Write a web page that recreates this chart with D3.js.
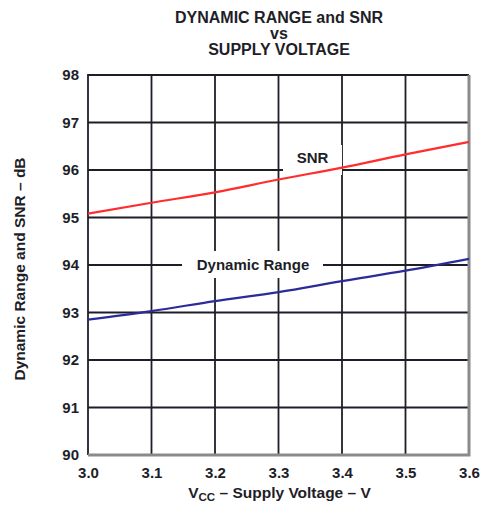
<!DOCTYPE html>
<html>
<head>
<meta charset="utf-8">
<script src="https://cdn.jsdelivr.net/npm/d3@7"></script>
<style>
  html, body { margin: 0; padding: 0; background: #fff; }
  svg { display: block; font-family: "Liberation Sans", Arial, Helvetica, sans-serif; font-weight: bold; }
</style>
</head>
<body>
<svg id="chart" width="499" height="506"></svg>
<script>
// Supply voltage (V)
const voltage = [3.0, 3.1, 3.2, 3.3, 3.4, 3.5, 3.6];
// SNR (dB)
const snr = [95.08, 95.31, 95.53, 95.80, 96.05, 96.33, 96.59];
// Dynamic range (dB)
const dynamicRange = [92.85, 93.03, 93.24, 93.43, 93.66, 93.88, 94.13];
// Axis ticks
const xTicks = [3.0, 3.1, 3.2, 3.3, 3.4, 3.5, 3.6];
const yTicks = [90, 91, 92, 93, 94, 95, 96, 97, 98];
const titleLines = ["DYNAMIC RANGE and SNR", "vs", "SUPPLY VOLTAGE"];

const svg = d3.select("#chart");
const ink = "#1e1e28";
const margin = { left: 88, right: 30, top: 75, bottom: 51 };
const W = 499, H = 506;

const x = d3.scaleLinear().domain([3.0, 3.6]).range([margin.left, W - margin.right]);
const y = d3.scaleLinear().domain([90, 98]).range([H - margin.bottom, margin.top]);

// Title
svg.append("g").selectAll("text").data(titleLines).join("text")
  .attr("x", 279).attr("y", (d, i) => 23 + i * 16)
  .attr("text-anchor", "middle").attr("font-size", 16).attr("fill", ink)
  .text(d => d);

// Grid
const grid = svg.append("g").attr("stroke", ink).attr("stroke-width", 1.8);
grid.selectAll("line.v").data(xTicks.slice(1, -1)).join("line")
  .attr("x1", d => x(d)).attr("x2", d => x(d))
  .attr("y1", y(90)).attr("y2", y(98));
grid.selectAll("line.h").data(yTicks.slice(1, -1)).join("line")
  .attr("x1", x(3.0)).attr("x2", x(3.6))
  .attr("y1", d => y(d)).attr("y2", d => y(d));

// Frame: dark top/left, grey shaded bottom/right
svg.append("path")
  .attr("d", `M${x(3.0)},${y(90)}V${y(98)}H${x(3.6)}`)
  .attr("fill", "none").attr("stroke", ink).attr("stroke-width", 1.8);
svg.append("path")
  .attr("d", `M${x(3.0)},${y(90)}H${x(3.6)}V${y(98)}`)
  .attr("fill", "none").attr("stroke", "#8a8a8a").attr("stroke-width", 3);

// Label backgrounds knock out the grid behind the series names
svg.append("rect").attr("x", 283).attr("y", 145).attr("width", 59).attr("height", 30).attr("fill", "#fff");
svg.append("rect").attr("x", 182).attr("y", 251).attr("width", 141).attr("height", 27).attr("fill", "#fff");

// Series
const line = d3.line().x((d, i) => x(voltage[i])).y(d => y(d)).curve(d3.curveMonotoneX);
svg.append("path").datum(snr).attr("d", line)
  .attr("fill", "none").attr("stroke", "#ff2d2d").attr("stroke-width", 2.2);
svg.append("path").datum(dynamicRange).attr("d", line)
  .attr("fill", "none").attr("stroke", "#2b2b99").attr("stroke-width", 2.2);

// Series names
svg.append("text").attr("x", 312.5).attr("y", 163).attr("text-anchor", "middle")
  .attr("font-size", 15).attr("fill", ink).text("SNR");
svg.append("text").attr("x", 253).attr("y", 270).attr("text-anchor", "middle")
  .attr("font-size", 15).attr("fill", ink).text("Dynamic Range");

// Axes
const xAxis = d3.axisBottom(x).tickValues(xTicks).tickFormat(d3.format(".1f")).tickSize(0).tickPadding(12);
const gx = svg.append("g").attr("transform", `translate(0,${y(90)})`).call(xAxis);
gx.select(".domain").remove();
gx.selectAll("text").attr("font-size", 15).attr("fill", ink).attr("font-family", null).attr("font-weight", "bold");

const yAxis = d3.axisLeft(y).tickValues(yTicks).tickFormat(d3.format("d")).tickSize(0).tickPadding(9);
const gy = svg.append("g").attr("transform", `translate(${x(3.0)},0)`).call(yAxis);
gy.select(".domain").remove();
gy.selectAll("text").attr("font-size", 15).attr("fill", ink).attr("font-family", null).attr("font-weight", "bold");

// Axis titles
const xt = svg.append("text").attr("x", 279.5).attr("y", 498).attr("text-anchor", "middle")
  .attr("font-size", 15.5).attr("fill", ink);
xt.append("tspan").text("V");
xt.append("tspan").attr("font-size", 11.5).attr("dy", 3).text("CC");
xt.append("tspan").attr("dy", -3).text(" \u2013 Supply Voltage \u2013 V");

svg.append("text").attr("transform", "translate(25,269) rotate(-90)")
  .attr("text-anchor", "middle").attr("font-size", 15.5).attr("fill", ink)
  .text("Dynamic Range and SNR \u2013 dB");
</script>
</body>
</html>
